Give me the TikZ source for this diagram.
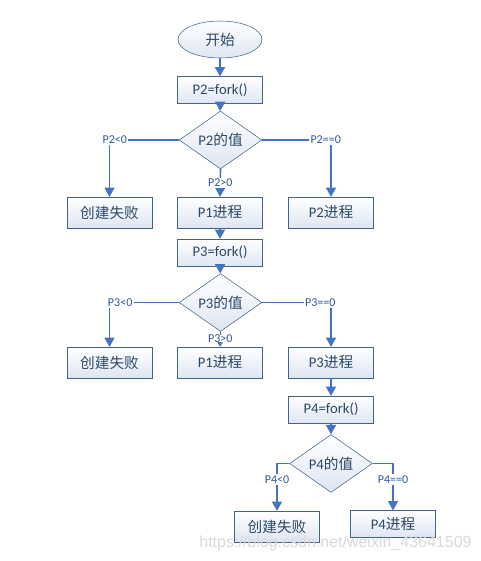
\documentclass[tikz,border=0pt]{standalone}
\usepackage{fontspec}
\setmainfont{Carlito}
\newfontfamily\cjk{Noto Sans CJK SC}
\newfontfamily\wmfont{Liberation Sans}
\usetikzlibrary{shapes.geometric,arrows.meta}
\definecolor{edgeblue}{RGB}{68,114,196}
\definecolor{boxline}{RGB}{66,100,138}
\definecolor{boxtext}{RGB}{44,72,104}
\definecolor{boxfill}{RGB}{222,230,242}
\definecolor{lblblue}{RGB}{47,85,151}
\begin{document}
\begin{tikzpicture}
    [
    x=0.75pt,y=-0.75pt,
    startnode/.style={ellipse,draw=boxline,top color=white,bottom color=boxfill,inner sep=0pt,minimum width=63pt,minimum height=27.75pt,text=boxtext,font=\cjk\fontsize{11}{13}\selectfont},
    forkbox/.style={rectangle,draw=boxline,top color=white,bottom color=boxfill,inner sep=0pt,minimum width=63.75pt,minimum height=20pt,text=boxtext,font=\fontsize{11}{13}\selectfont},
    procbox/.style={forkbox,minimum height=23pt},
    choice/.style={diamond,draw=boxline,top color=white,bottom color=boxfill,inner sep=0pt,minimum width=62pt,minimum height=31.5pt,text=boxtext,font=\fontsize{11}{13}\selectfont},
    flow/.style={draw=edgeblue,line width=1.2pt,-{Triangle[width=7.5pt,length=7pt]}},
    smallflow/.style={draw=edgeblue,line width=1pt,-{Triangle[width=4pt,length=3.5pt]}},
    branch/.style={fill=white,text=lblblue,inner sep=1pt,font=\fontsize{9}{10}\selectfont}
    ]
    \useasboundingbox [fill=white] (0,0) rectangle (480,561);
    % first fork
    \node (start) at (220,39.5) [startnode] {开始};
    \node (fork2) at (220,90) [forkbox] {P2=fork()};
    \node (val2) at (220.5,140) [choice] {P2{\cjk 的值}};
    \node (fail2) at (109.5,212.5) [procbox] {\cjk 创建失败};
    \node (p1a) at (220,212.5) [procbox] {P1{\cjk 进程}};
    \node (p2) at (331,212.5) [procbox] {P2{\cjk 进程}};
    % second fork
    \node (fork3) at (220,252.5) [forkbox] {P3=fork()};
    \node (val3) at (220.5,302.5) [choice] {P3{\cjk 的值}};
    \node (fail3) at (109.5,362.5) [procbox] {\cjk 创建失败};
    \node (p1b) at (220,362.5) [procbox] {P1{\cjk 进程}};
    \node (p3) at (331,362.5) [procbox] {P3{\cjk 进程}};
    % third fork
    \node (fork4) at (331,409.5) [forkbox] {P4=fork()};
    \node (val4) at (331,463.5) [choice] {P4{\cjk 的值}};
    \node (fail4) at (277,526.5) [procbox] {\cjk 创建失败};
    \node (p4) at (393,524) [procbox,minimum height=20pt] {P4{\cjk 进程}};
    \draw [flow] (start) to (fork2);
    \draw [flow] (fork2) to (val2);
    \draw [flow] (val2.west) -| node (lt2) [branch,pos=0.5,xshift=4pt] {P2<0} (fail2.north);
    \draw [flow] (val2.east) -| node (eq2) [branch,pos=0.5,xshift=-4pt] {P2==0} (p2.north);
    \draw [flow] (val2.south) to node (gt2) [branch] {P2>0} (p1a.north);
    \draw [flow] (p1a) to (fork3);
    \draw [flow] (fork3) to (val3);
    \draw [flow] (val3.west) -| node (lt3) [branch,pos=0.5,xshift=8pt] {P3<0} (fail3.north);
    \draw [flow] (val3.east) -| node (eq3) [branch,pos=0.5,xshift=-8pt] {P3==0} (p3.north);
    \draw [smallflow] (val3.south) to node (gt3) [branch,inner sep=0pt,pos=0.45] {P3>0} (p1b.north);
    \draw [flow] (p3) to (fork4);
    \draw [flow] (fork4) to (val4);
    \draw [flow] (val4.west) -| node (lt4) [branch,pos=0.67] {P4<0} (fail4.north);
    \draw [flow] (val4.east) -| node (eq4) [branch,pos=0.67] {P4==0} (p4.north);
    \node (mark) at (335.5,543) [text=gray!30,font=\wmfont\fontsize{12}{14}\selectfont] {https://blog.csdn.net/weixin\_43641509};
\end{tikzpicture}
\end{document}
